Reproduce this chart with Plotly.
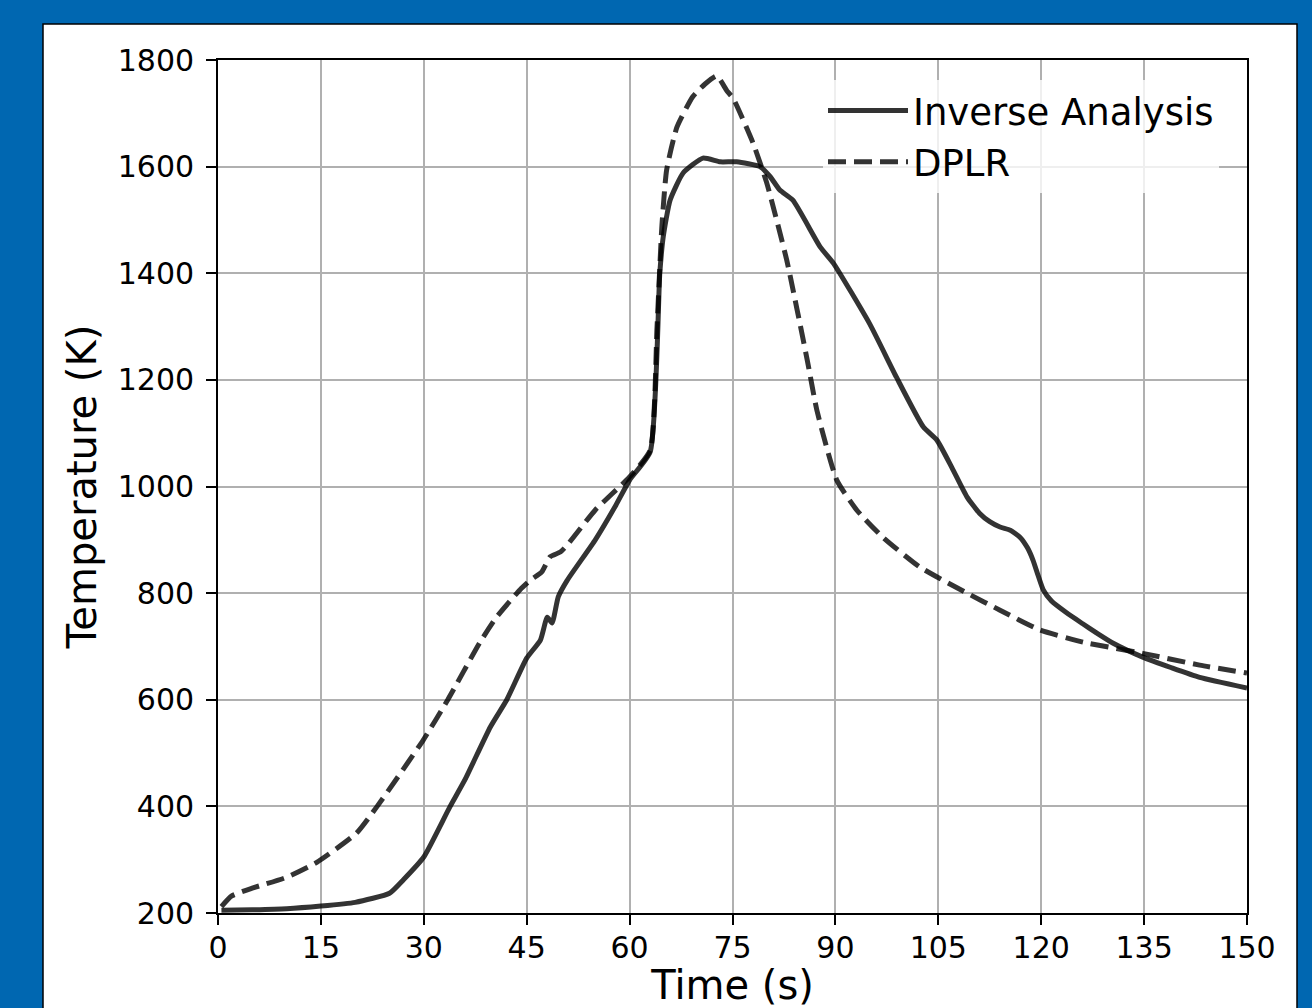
import plotly.graph_objects as go

# Data
inv_t = [0.5, 5, 10, 15, 20, 25, 27, 30, 33.8, 36, 39.7, 42.1, 45, 47, 48, 48.7, 49.6, 50.9,
         55, 58, 60, 63, 64.4, 64.9, 65.9, 67.8, 70.7, 73.2, 75.6, 79, 80.5, 81.9, 83.8,
         87.8, 89.7, 95, 98.9, 102.8, 104.8, 107, 109.2, 111, 112.5, 114, 115.5, 116.9, 118,
         118.8, 119.5, 120.3, 121.5, 123.7, 126, 128, 130.5, 134.8, 139, 143.1, 150]
inv_T = [205, 206, 208, 213, 220, 237, 262, 305, 399, 450, 549, 600, 678, 712, 755, 744, 793, 824,
         900, 965, 1012, 1065, 1400, 1468, 1537, 1588, 1616, 1609, 1609, 1600, 1581, 1556, 1537,
         1449, 1419, 1305, 1205, 1112, 1087, 1035, 980, 950, 934, 924, 918, 905, 885,
         862, 835, 806, 785, 763, 743, 726, 706, 680, 660, 642, 622]

dplr_t = [0.5, 2, 5.1, 10, 14.4, 20.2, 23.2, 29.9, 33.5, 38.2, 40.6, 44, 45.5, 47.2, 48.4, 49.9,
          50.9, 55, 60, 63, 64, 64.7, 65.4, 66.9, 69.2, 71, 72.7, 74.2, 75.1, 78, 80, 82.9, 85.9,
          87.3, 90.2, 93.1, 96.9, 102.3, 109.2, 114, 119.8, 126.1, 134.8, 143.1, 150]
dplr_T = [212, 232, 247, 267, 295, 350, 400, 524, 600, 708, 755, 806, 824, 840, 868, 877,
          890, 956, 1018, 1068, 1300, 1487, 1594, 1674, 1731, 1755, 1770, 1742, 1728, 1644, 1569, 1425, 1237,
          1143, 1012, 956, 905, 849, 800, 768, 731, 708, 687, 665, 650]

x_ticks = [0, 15, 30, 45, 60, 75, 90, 105, 120, 135, 150]
y_ticks = [200, 400, 600, 800, 1000, 1200, 1400, 1600, 1800]

FONT = "DejaVu Sans"
LINE_COLOR = "rgba(0,0,0,0.8)"

fig = go.Figure()
fig.add_trace(go.Scatter(x=inv_t, y=inv_T, mode="lines", name="Inverse Analysis",
                         line=dict(color=LINE_COLOR, width=5, shape="spline", smoothing=0.5)))
fig.add_trace(go.Scatter(x=dplr_t, y=dplr_T, mode="lines", name="DPLR",
                         line=dict(color=LINE_COLOR, width=5, dash="18px,8px",
                                   shape="spline", smoothing=0.5)))

L, R, T, B = 218, 65, 60, 95
W, H = 1312, 1008
pw, ph = W - L - R, H - T - B

def px2x(px):
    return (px - L) / pw

def py2y(py):
    return (H - B - py) / ph

# white panel on blue background
fig.add_shape(type="rect", xref="paper", yref="paper",
              x0=px2x(43), x1=px2x(1297), y0=py2y(1030), y1=py2y(24),
              fillcolor="white", line=dict(color="black", width=1.5), layer="below")

axis_common = dict(
    showline=True, linecolor="black", linewidth=1.8, mirror=True,
    ticks="outside", ticklen=10, tickwidth=1.8, tickcolor="black",
    showgrid=True, gridcolor="#b0b0b0", gridwidth=1.6,
    zeroline=False, tickfont=dict(family=FONT, size=30, color="black"),
)

fig.update_xaxes(range=[0, 150], tickmode="array", tickvals=x_ticks,
                 ticklabelstandoff=-3,
                 title=dict(text="Time (s)", font=dict(family=FONT, size=40, color="black"), standoff=16),
                 **axis_common)
fig.update_yaxes(range=[200, 1800], tickmode="array", tickvals=y_ticks,
                 ticklabelstandoff=6,
                 title=dict(text="Temperature (K)", font=dict(family=FONT, size=40, color="black"), standoff=9),
                 **axis_common)

fig.update_layout(
    width=W, height=H,
    margin=dict(l=L, r=R, t=T, b=B, autoexpand=False),
    paper_bgcolor="#0067B1", plot_bgcolor="white",
    font=dict(family=FONT, color="black"),
    showlegend=True,
    legend=dict(x=px2x(1219), y=py2y(80), xanchor="right", yanchor="top",
                bgcolor="rgba(255,255,255,0.8)", borderwidth=0,
                font=dict(family=FONT, size=37, color="black"),
                itemwidth=80),
)

fig.write_html("out.html", config={"displayModeBar": False},
               post_script="document.body.style.margin='0px';document.body.style.padding='0px';")
